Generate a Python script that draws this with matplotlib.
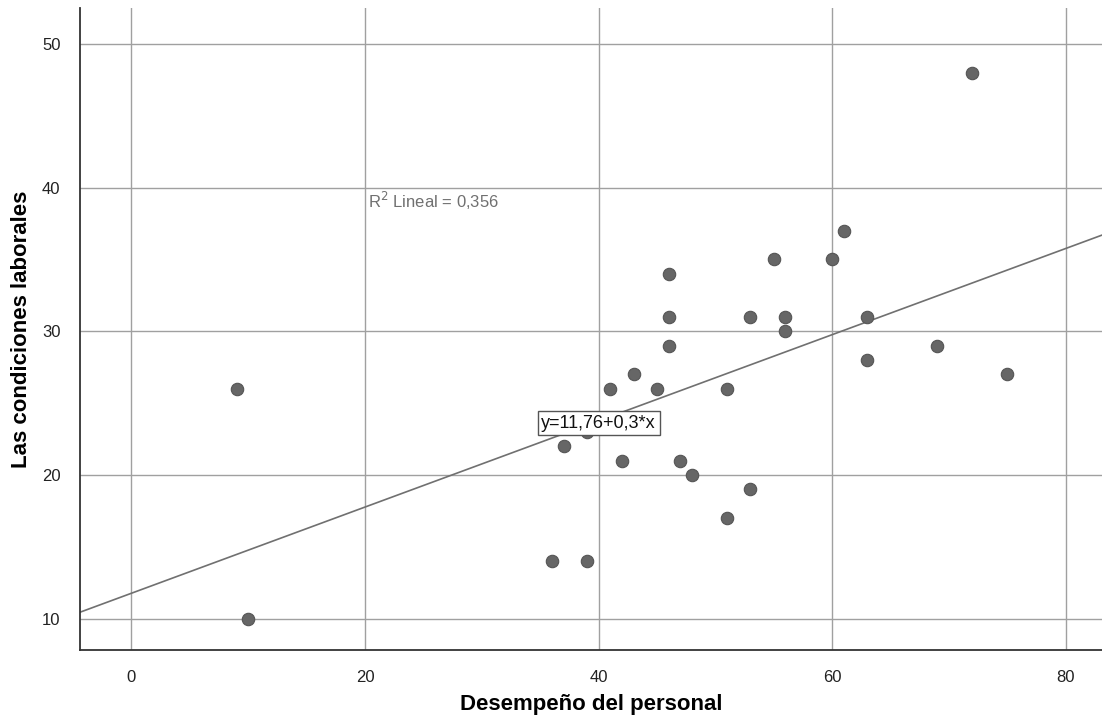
import matplotlib
matplotlib.use("Agg")
import matplotlib.pyplot as plt
import numpy as np

plt.rcParams['font.family'] = ['Liberation Sans', 'DejaVu Sans']

# Desempeño del personal (x) vs Las condiciones laborales (y)
desempeno = [9, 10, 36, 39, 37, 39, 41, 42, 43, 45, 46, 46, 46, 47, 48,
             51, 51, 53, 53, 55, 56, 56, 60, 61, 63, 63, 69, 72, 75]
condiciones = [26, 10, 14, 14, 22, 23, 26, 21, 27, 26, 34, 31, 29, 21, 20,
               26, 17, 31, 19, 35, 31, 30, 35, 37, 31, 28, 29, 48, 27]

intercept = 11.76
slope = 0.3
r2_text = "R$^2$ Lineal = 0,356"
eq_text = "y=11,76+0,3*x"

fig = plt.figure(figsize=(11.02, 7.24), dpi=100)
ax = fig.add_axes([0.0726, 0.102, 0.9274, 0.887])

ax.set_xlim(-4.4, 83.1)
ax.set_ylim(7.8, 52.5)

ax.set_xticks([0, 20, 40, 60, 80])
ax.set_yticks([10, 20, 30, 40, 50])
ax.grid(True, color="#a0a0a0", linewidth=1.0)
ax.set_axisbelow(True)

# fit line
xs = np.array([-4.4, 83.1])
ax.plot(xs, intercept + slope * xs, color="#707070", linewidth=1.2, zorder=2)

ax.scatter(desempeno, condiciones, s=80, color="#666666", edgecolors="#555555",
           linewidths=0.8, zorder=3)

ax.text(20.3, 38.6, r2_text, fontsize=12, color="#707070", zorder=4)
ax.text(40.0, 23.6, eq_text, fontsize=13, color="#111111", ha="center", va="center",
        zorder=5, bbox=dict(boxstyle="square,pad=0.2", facecolor="white",
                            edgecolor="#555555", linewidth=1.0))

for side in ["top", "right"]:
    ax.spines[side].set_visible(False)
for side in ["left", "bottom"]:
    ax.spines[side].set_color("#333333")
    ax.spines[side].set_linewidth(1.3)

ax.tick_params(length=0, labelsize=12, pad=14, colors="#222222")
ax.set_xlabel("Desempeño del personal", fontsize=16, fontweight="bold")
ax.set_ylabel("Las condiciones laborales", fontsize=16, fontweight="bold")
ax.xaxis.set_label_coords(0.5, -0.068)
ax.yaxis.set_label_coords(-0.047, 0.5)

plt.savefig("out.png")
